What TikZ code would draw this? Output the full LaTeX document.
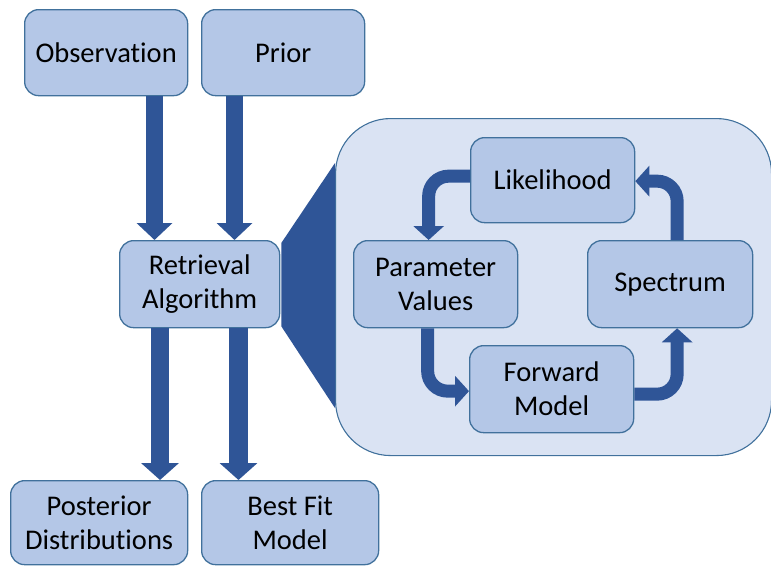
\documentclass[tikz,border=0pt]{standalone}
\usepackage{fontspec}
\setmainfont{Carlito}[Ligatures={NoCommon}]
\usetikzlibrary{arrows.meta,calc,backgrounds}
\definecolor{arrowblue}{HTML}{2F5597}
\definecolor{boxfill}{HTML}{B4C7E7}
\definecolor{boxline}{HTML}{41719C}
\definecolor{panelfill}{HTML}{DAE3F3}
\tikzset{
  blk/.style={draw=boxline, line width=1.3pt, fill=boxfill, rounded corners=14pt,
    anchor=north west, align=center, inner sep=0pt,
    font=\fontsize{28.5}{34}\selectfont},
  bigarrow/.style={draw=arrowblue, line width=17pt,
    -{Triangle[width=35pt,length=17pt]}},
  loopar/.style={draw=arrowblue, line width=13pt, rounded corners=20pt,
    -{Triangle[width=30pt,length=14pt]}},
}
\begin{document}
\begin{tikzpicture}[x=1pt,y=-1pt]
\useasboundingbox (0,0) rectangle (771,565);
% nodes
\node[blk, minimum width=163pt, minimum height=86pt] (obs) at (24,9) {Observation};
\node[blk, minimum width=163pt, minimum height=86pt] (prior) at (201,9) {Prior};
\node[blk, minimum width=160pt, minimum height=87pt] (ret) at (119,240) {Retrieval\\Algorithm};
\node[blk, minimum width=177pt, minimum height=84pt] (post) at (10,480) {Posterior\\Distributions};
\node[blk, minimum width=177pt, minimum height=84pt] (best) at (201,480) {Best Fit\\Model};
% panel and magnifier wedge behind
\begin{scope}[on background layer]
\node[draw=boxline, line width=1.1pt, fill=panelfill, rounded corners=55pt,
  anchor=north west, minimum width=436pt, minimum height=337pt, inner sep=0pt]
  (panel) at (335,118) {};
\fill[arrowblue] ($(ret.north east)+(1,3)$) -- ($(panel.north west)+(0,45)$)
  -- ($(panel.south west)+(0,-48)$) -- ($(ret.south east)+(1,-2)$) -- cycle;
\end{scope}
\node[blk, minimum width=164pt, minimum height=85pt] (lik) at (470,137) {Likelihood};
\node[blk, minimum width=164pt, minimum height=87pt] (par) at (353,240) {Parameter\\Values};
\node[blk, minimum width=165pt, minimum height=87pt] (spec) at (587,240) {Spectrum};
\node[blk, minimum width=164pt, minimum height=87pt] (fwd) at (469,345) {Forward\\Model};
% big arrows
\draw[bigarrow] (obs.south -| 154.5,0) -- (ret.north -| 154.5,0);
\draw[bigarrow] (prior.south -| 234.5,0) -- (ret.north -| 234.5,0);
\draw[bigarrow, line width=18.5pt, -{Triangle[width=37pt,length=17pt]}] (ret.south -| 160,0) -- (post.north -| 160,0);
\draw[bigarrow, line width=18.5pt, -{Triangle[width=37pt,length=17pt]}] (ret.south -| 238.5,0) -- (best.north -| 238.5,0);
% loop arrows
\draw[loopar] ($(lik.west)+(0,-4)$) -| ($(par.north)+(-7,0)$);
\draw[loopar] ($(par.south)+(-8,0)$) |- ($(fwd.west)+(0,2)$);
\draw[loopar] ($(fwd.east)+(0,5)$) -| ($(spec.south)+(7,0)$);
\draw[loopar] ($(spec.north)+(7,0)$) |- ($(lik.east)+(0,1)$);
\end{tikzpicture}
\end{document}
